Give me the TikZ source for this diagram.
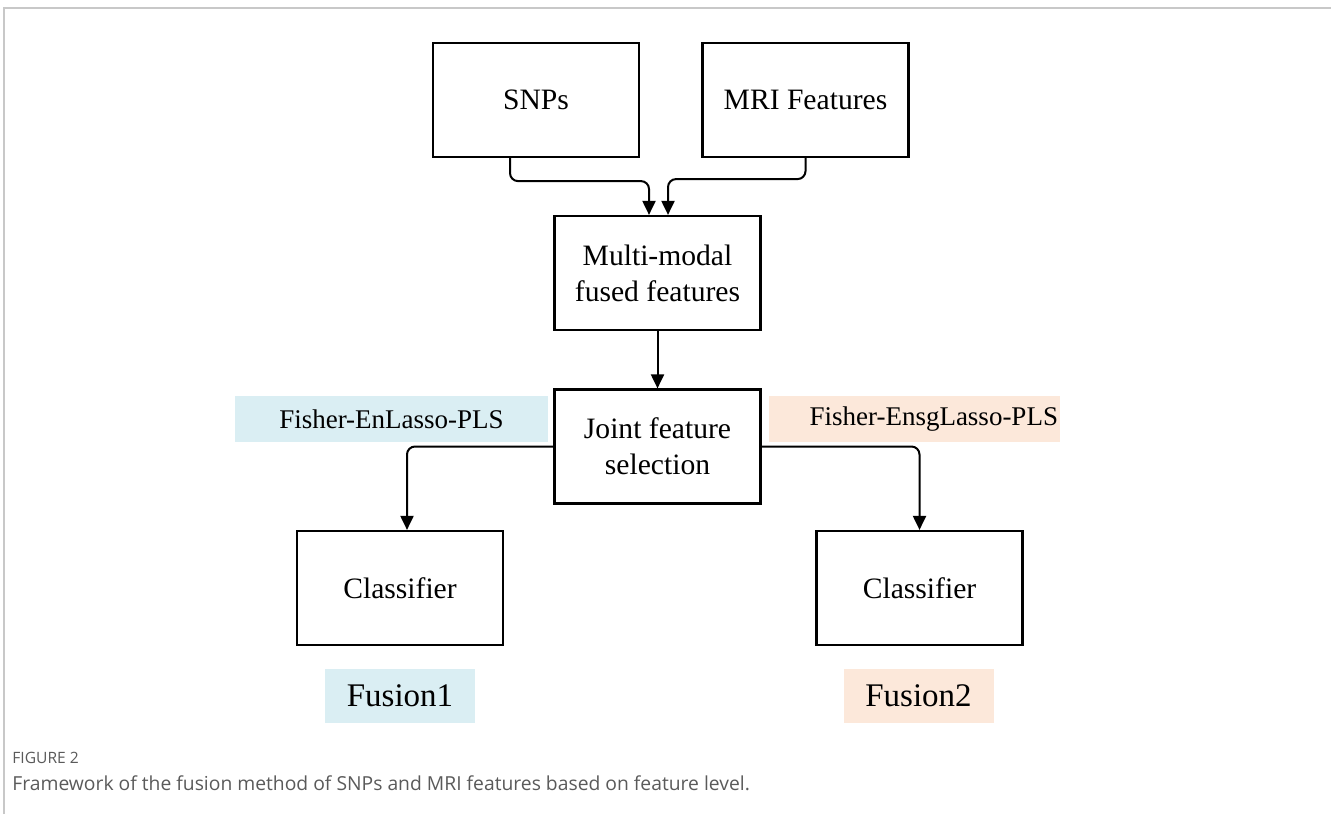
\documentclass[tikz,border=0pt]{standalone}
\usepackage{fontspec}
\setmainfont{Liberation Serif}
\newfontfamily\capfont{Open Sans}
\usetikzlibrary{arrows.meta}

\definecolor{lblue}{HTML}{DAEEF3}
\definecolor{lorange}{HTML}{FCE8DA}
\definecolor{framegray}{HTML}{C8C8C8}
\definecolor{capgray}{HTML}{5A5A5A}

\begin{document}
\begin{tikzpicture}[x=0.5pt,y=-0.5pt,
  box/.style={draw,line width=1.1pt,minimum width=103pt,minimum height=57pt,
    inner sep=0pt,align=center,font=\fontsize{14.8}{18}\selectfont},
  tag/.style={inner sep=0pt,minimum height=23pt,font=\fontsize{13.5}{16}\selectfont},
  fus/.style={inner sep=0pt,minimum width=75pt,minimum height=27pt,font=\fontsize{16.5}{18}\selectfont},
  conn/.style={line width=1pt,rounded corners=4pt,-{Triangle[length=7pt,width=6.5pt]}},
  captext/.style={anchor=west,inner sep=0pt,text=capgray}]

\useasboundingbox (0,0) rectangle (1331,814);

% page frame
\draw[framegray,line width=1.2pt] (4,814) -- (4,8) -- (1331,8);

% inputs
\node[box] (snp) at (536,100) {SNPs};
\node[box] (mri) at (805.5,100) {MRI Features};

% fusion and selection
\node[box] (mmf) at (657.5,273) {Multi-modal\\fused features};
\node[box] (jfs) at (657.5,446.5) {Joint feature\\selection};

% method tags
\node[tag,fill=lblue,minimum width=156.5pt] (tagl) at (391.5,419) {Fisher-EnLasso-PLS};
\node[tag,fill=lorange,minimum width=145.5pt,text width=143.5pt,align=right] (tagr) at (914.5,419) {Fisher-EnsgLasso-PLS};

% classifiers
\node[box] (clsl) at (400,588) {Classifier};
\node[box] (clsr) at (919.5,588) {Classifier};

\node[fus,fill=lblue] (fusl) at (400,696) {Fusion1};
\node[fus,fill=lorange] (fusr) at (918.5,696) {Fusion2};

% connectors
\draw[conn] ([xshift=-13pt]snp.south) -- ++(0,23) -| ([xshift=-4.25pt]mmf.north);
\draw[conn] (mri.south) -- ++(0,21) -| ([xshift=5.25pt]mmf.north);
\draw[conn] (mmf.south) -- (jfs.north);
\draw[conn] (jfs.west) -| ([xshift=3.5pt]clsl.north);
\draw[conn] (jfs.east) -| (clsr.north);

% caption
\node[captext,font=\capfont\fontsize{7.8}{9}\selectfont] (fig) at (12,758) {FIGURE 2};
\node[captext,font=\capfont\fontsize{9.65}{11}\selectfont] (capt) at (12,783)
  {Framework of the fusion method of SNPs and MRI features based on feature level.};

\end{tikzpicture}
\end{document}
